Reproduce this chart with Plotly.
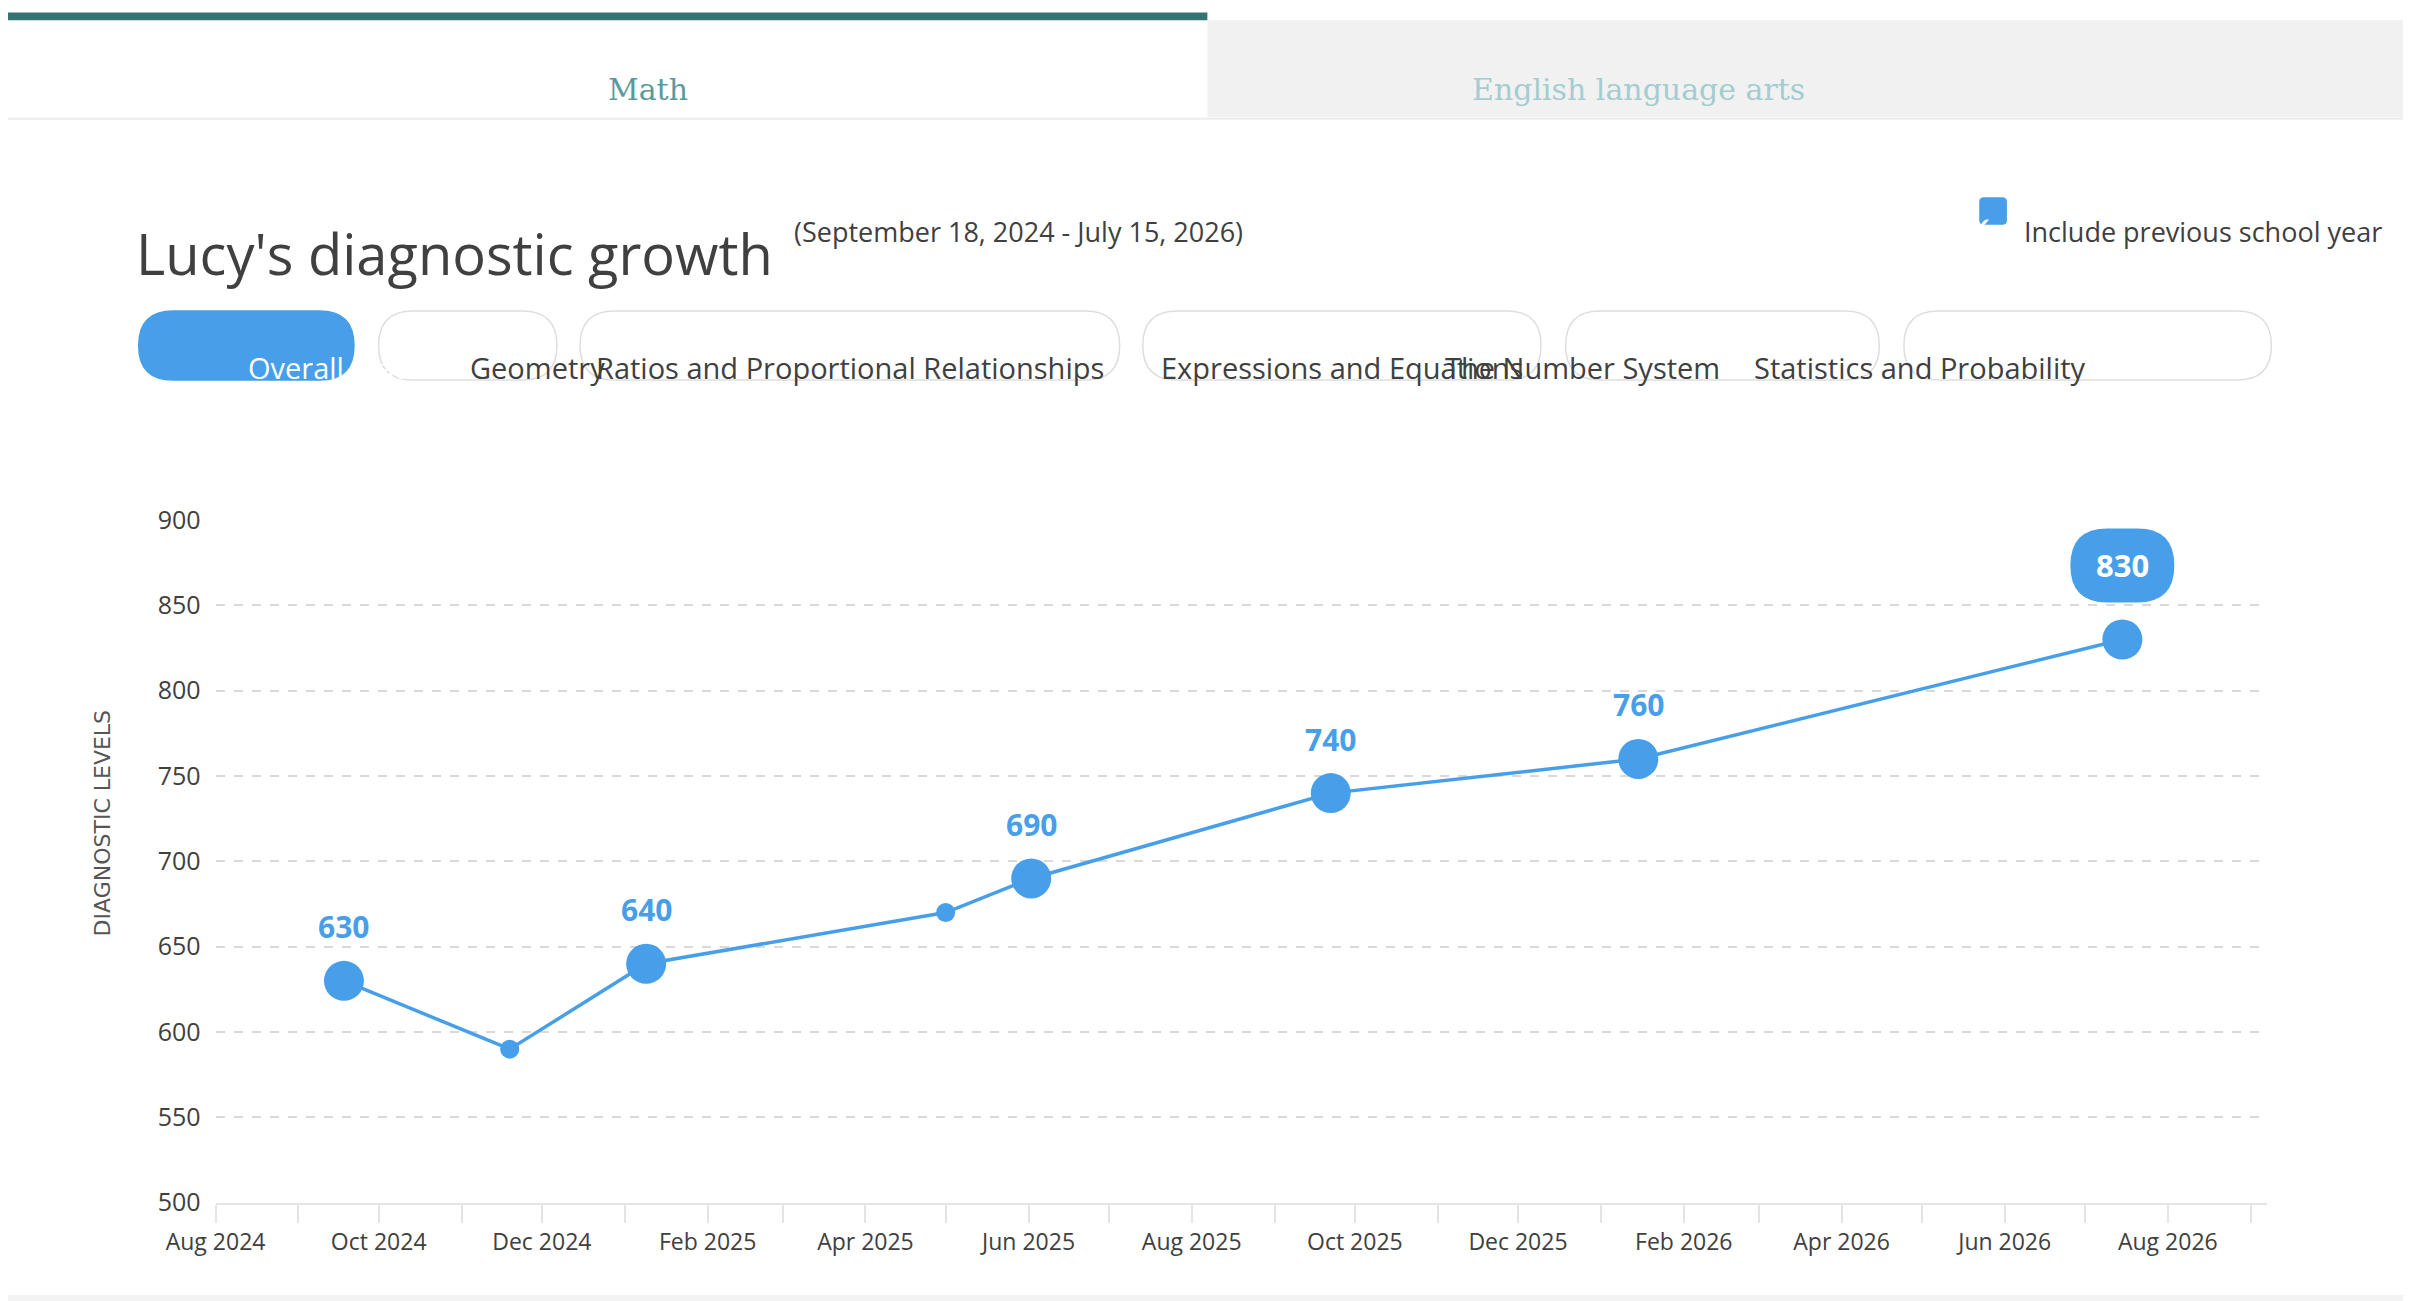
import plotly.graph_objects as go

# data
test_dates = ["2024-09-18", "2024-11-19", "2025-01-09", "2025-05-01",
              "2025-06-02", "2025-09-22", "2026-01-15", "2026-07-15"]
levels = [630, 590, 640, 670, 690, 740, 760, 830]
is_diagnostic = [True, False, True, False, True, True, True, True]
pill_labels = ["Overall math", "Geometry", "Ratios and Proportional Relationships",
               "Expressions and Equations", "The Number System", "Statistics and Probability"]
pill_edges = [(85, 225), (241, 357), (372, 723), (738, 997), (1013, 1217), (1233, 1472)]

W, H = 2411, 1301
S = W / 1568.0
BLUE = "#479fe9"
FONT = "Open Sans"


def px(x):
    return x * S / W


def py(y):
    return 1 - y * S / H


def round_rect(x0, y0, x1, y1, r):
    # rounded rectangle in reference pixels -> paper coords
    pts = [
        f"M {px(x0 + r)} {py(y0)}",
        f"L {px(x1 - r)} {py(y0)}",
        f"Q {px(x1)} {py(y0)} {px(x1)} {py(y0 + r)}",
        f"L {px(x1)} {py(y1 - r)}",
        f"Q {px(x1)} {py(y1)} {px(x1 - r)} {py(y1)}",
        f"L {px(x0 + r)} {py(y1)}",
        f"Q {px(x0)} {py(y1)} {px(x0)} {py(y1 - r)}",
        f"L {px(x0)} {py(y0 + r)}",
        f"Q {px(x0)} {py(y0)} {px(x0 + r)} {py(y0)}",
        "Z",
    ]
    return " ".join(pts)


fig = go.Figure()

sizes = [40 if d else 19 for d in is_diagnostic]
fig.add_trace(go.Scatter(
    x=test_dates, y=levels, mode="lines+markers",
    line=dict(color=BLUE, width=3.5),
    marker=dict(color=BLUE, size=sizes, opacity=1, line=dict(width=0)),
    hoverinfo="x+y", showlegend=False,
))

shapes = []
annotations = []

# page pieces
shapes.append(dict(type="rect", xref="paper", yref="paper", x0=px(1560), x1=1, y0=0, y1=1,
                   fillcolor="#f3f3f3", line_width=0, layer="below"))
shapes.append(dict(type="rect", xref="paper", yref="paper", x0=0, x1=1, y0=0, y1=py(837),
                   fillcolor="#f3f3f3", line_width=0, layer="below"))
shapes.append(dict(type="rect", xref="paper", yref="paper", x0=px(780), x1=px(1560),
                   y0=py(71), y1=py(8), fillcolor="#f1f1f1", line_width=0, layer="below"))
shapes.append(dict(type="rect", xref="paper", yref="paper", x0=0, x1=px(780),
                   y0=py(8), y1=py(3), fillcolor="#337473", line_width=0, layer="below"))
shapes.append(dict(type="line", xref="paper", yref="paper", x0=0, x1=px(1560),
                   y0=py(72), y1=py(72), line=dict(color="#ececec", width=2), layer="below"))

annotations.append(dict(text="Math", x=px(389), y=py(40), xref="paper", yref="paper",
                        showarrow=False, font=dict(family="DejaVu Serif", size=30, color="#5b9a9c")))
annotations.append(dict(text="English language arts", x=px(1170), y=py(40), xref="paper", yref="paper",
                        showarrow=False, font=dict(family="DejaVu Serif", size=30, color="#a3cdd0")))

annotations.append(dict(text="Lucy's diagnostic growth", x=px(82), y=py(133), xref="paper", yref="paper",
                        xanchor="left", showarrow=False, font=dict(family=FONT, size=56, color="#404040")))
annotations.append(dict(text="(September 18, 2024 - July 15, 2026)", x=px(510), y=py(132), xref="paper",
                        yref="paper", xanchor="left", showarrow=False,
                        font=dict(family=FONT, size=27, color="#404040")))

# checkbox
shapes.append(dict(type="path", path=round_rect(1282, 123, 1300, 141, 3),
                   xref="paper", yref="paper", fillcolor=BLUE, line_width=0))
annotations.append(dict(text="✔", x=px(1291), y=py(132), xref="paper", yref="paper", showarrow=False,
                        font=dict(family="DejaVu Sans", size=20, color="white")))
annotations.append(dict(text="Include previous school year", x=px(1310), y=py(132), xref="paper",
                        yref="paper", xanchor="left", showarrow=False,
                        font=dict(family=FONT, size=27, color="#404040")))

# filter pills
for i, (label, (x0, x1)) in enumerate(zip(pill_labels, pill_edges)):
    active = i == 0
    shapes.append(dict(type="path", path=round_rect(x0, 197, x1, 242, 22.5), xref="paper", yref="paper",
                       fillcolor=BLUE if active else "white",
                       line=dict(color=BLUE if active else "#dedede", width=1.5)))
    annotations.append(dict(text=label, x=px((x0 + x1) / 2), y=py(220), xref="paper", yref="paper",
                            showarrow=False,
                            font=dict(family=FONT, size=29, color="white" if active else "#404040")))

# y axis title
annotations.append(dict(text="DIAGNOSTIC LEVELS", x=px(52), y=py(530), xref="paper", yref="paper",
                        textangle=-90, showarrow=False,
                        font=dict(family="DejaVu Sans", size=22, color="#555555")))

# point labels
for d, v, big in zip(test_dates, levels, is_diagnostic):
    if not big:
        continue
    if d == test_dates[-1]:
        # bubble behind the latest score
        w, h, up = 52, 37, 74
        shapes.append(dict(
            type="path", xref="x", yref="y", xsizemode="pixel", ysizemode="pixel",
            xanchor=d, yanchor=v,
            path=(f"M {-w + h} {up + h} L {w - h} {up + h} Q {w} {up + h} {w} {up} "
                  f"Q {w} {up - h} {w - h} {up - h} L {-w + h} {up - h} "
                  f"Q {-w} {up - h} {-w} {up} Q {-w} {up + h} {-w + h} {up + h} Z"),
            fillcolor=BLUE, line_width=0))
        annotations.append(dict(x=d, y=v, text=f"<b>{v}</b>", showarrow=False, yshift=up,
                                font=dict(family=FONT, size=31, color="white")))
    else:
        annotations.append(dict(x=d, y=v, text=f"<b>{v}</b>", showarrow=False, yshift=54,
                                font=dict(family=FONT, size=30, color=BLUE)))

fig.update_layout(
    width=W, height=H, margin=dict(l=0, r=0, t=0, b=0, autoexpand=False),
    paper_bgcolor="white", plot_bgcolor="white",
    shapes=shapes, annotations=annotations,
    font=dict(family=FONT, color="#404040"),
    xaxis=dict(domain=[px(135), px(1469)], type="date", automargin=False,
               range=["2024-08-01", "2026-09-07"],
               dtick="M2", tick0="2024-08-01", tickformat="%b %Y",
               ticks="outside", ticklen=18, tickcolor="#e4e4e4", tickwidth=1.5,
               minor=dict(dtick="M1", ticks="outside", ticklen=18, tickcolor="#e4e4e4", showgrid=False),
               showgrid=False, showline=True, linecolor="#e4e4e4", linewidth=2,
               tickfont=dict(size=23, color="#404040"), zeroline=False),
    yaxis=dict(domain=[py(777), py(333)], range=[500, 900], dtick=50, automargin=False,
               showgrid=True, gridcolor="#d9d9d9", griddash="dash", gridwidth=1.5,
               zeroline=False, showline=False, ticks="", ticklabelstandoff=14,
               tickfont=dict(size=25, color="#404040")),
)

fig.write_html("out.html")
